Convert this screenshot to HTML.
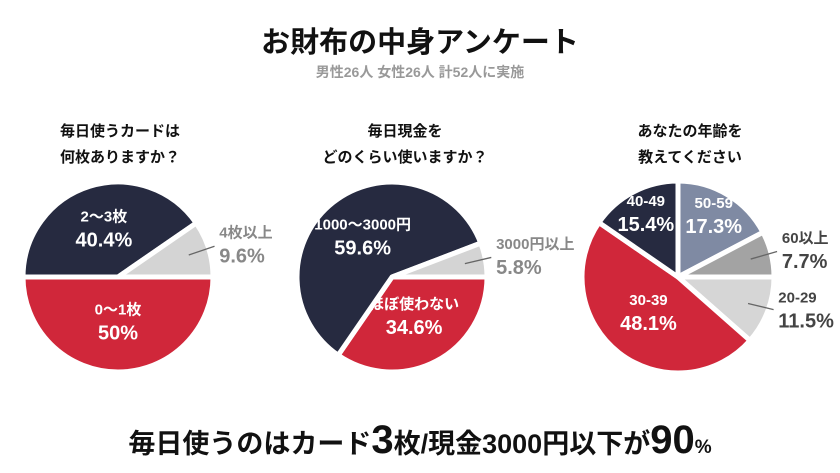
<!DOCTYPE html>
<html><head><meta charset="utf-8">
<style>
body{margin:0;width:840px;height:473px;background:#fff;overflow:hidden;font-family:"Liberation Sans","Noto Sans CJK JP",sans-serif;}
svg{display:block}
text{font-family:"Liberation Sans","Noto Sans CJK JP",sans-serif;font-weight:bold}
</style></head><body>
<svg id="chart" width="840" height="473">
<text x="420" y="52" text-anchor="middle" font-size="29" fill="#111">お財布の中身アンケート</text>
<text x="420" y="77" text-anchor="middle" font-size="14" fill="#999">男性26人 女性26人 計52人に実施</text>
<text x="120" y="136" text-anchor="middle" font-size="15" fill="#111">毎日使うカードは</text>
<text x="120" y="162" text-anchor="middle" font-size="15" fill="#111">何枚ありますか？</text>
<text x="405" y="136" text-anchor="middle" font-size="15" fill="#111">毎日現金を</text>
<text x="405" y="162" text-anchor="middle" font-size="15" fill="#111">どのくらい使いますか？</text>
<text x="690" y="136" text-anchor="middle" font-size="15" fill="#111">あなたの年齢を</text>
<text x="690" y="162" text-anchor="middle" font-size="15" fill="#111">教えてください</text>
<g id="pies"></g>
<text x="420" y="453" text-anchor="middle" font-size="27" fill="#111">毎日使うのはカード<tspan font-size="40">3</tspan>枚/現金3000円以下が<tspan font-size="40">90</tspan><tspan font-size="19">%</tspan></text>
</svg>
<script>
const p1Labels=["0〜1枚","2〜3枚","4枚以上"];
const p1Values=[50,40.4,9.6];
const p2Labels=["ほぼ使わない","1000〜3000円","3000円以上"];
const p2Values=[34.6,59.6,5.8];
const p3Labels=["50-59","60以上","20-29","30-39","40-49"];
const p3Values=[17.3,7.7,11.5,48.1,15.4];

const NS="http://www.w3.org/2000/svg";
const g=document.getElementById('pies');
function mk(tag,attrs){const e=document.createElementNS(NS,tag);for(const k in attrs)e.setAttribute(k,attrs[k]);return e;}
function pt(cx,cy,r,deg){const a=(deg-90)*Math.PI/180;return[cx+r*Math.cos(a),cy+r*Math.sin(a)];}
function drawPie(id,cx,cy,r,start,labels,values,colors,txtColors,outside,inR){
  const tot=values.reduce((a,b)=>a+b,0);let a0=start;
  values.forEach((v,i)=>{
    const a1=a0+v/tot*360;
    const p0=pt(cx,cy,r,a0),p1=pt(cx,cy,r,a1);
    const large=(a1-a0)>180?1:0;
    const path=mk('path',{d:`M${cx},${cy}L${p0[0]},${p0[1]}A${r},${r} 0 ${large} 1 ${p1[0]},${p1[1]}Z`,fill:colors[i],stroke:'#fff','stroke-width':5,'stroke-linejoin':'miter'});
    
    
    g.appendChild(path);
    const mid=(a0+a1)/2;
    let lx,ly,anchor='middle';
    if(outside[i]){
      const q0=pt(cx,cy,r*0.78,mid),q1=pt(cx,cy,r*1.02,mid);
      const ln=mk('line',{x1:q0[0],y1:q0[1],x2:q1[0]+4,y2:q1[1]-2,stroke:'#666','stroke-width':1.3});
      
      
      g.appendChild(ln);
      const q=pt(cx,cy,r*1.05,mid);lx=q[0]+6;ly=q[1]-10;anchor='start';
    } else {
      const q=pt(cx,cy,r*inR[i],mid);lx=q[0];ly=q[1]-10;
    }
    const t1=mk('text',{x:lx,y:ly,'text-anchor':anchor,'font-size':15,fill:txtColors[i]});
    t1.textContent=labels[i];
    
    
    g.appendChild(t1);
    const t2=mk('text',{x:lx,y:ly+25,'text-anchor':anchor,'font-size':20,fill:txtColors[i]});
    t2.textContent=values[i]+'%';
    
    
    g.appendChild(t2);
    a0=a1;
  });
}
const NAVY="#262a40",RED="#d0273a",LG="#d4d4d4";
drawPie('cards',118,277,95,90,p1Labels,p1Values,[RED,NAVY,LG],['#fff','#fff','#888'],[false,false,true],[0.5,0.5,0.6]);
drawPie('cash',392,277,95,90,p2Labels,p2Values,[RED,NAVY,LG],['#fff','#fff','#888'],[false,false,true],[0.5,0.5,0.6]);
drawPie('age',678,277,96,0,p3Labels,p3Values,["#7f8aa3","#a3a3a3","#d6d6d6",RED,NAVY],['#fff','#444','#444','#fff','#fff'],[false,true,true,false,false],[0.72,0.6,0.6,0.5,0.72]);
</script>
</body></html>
